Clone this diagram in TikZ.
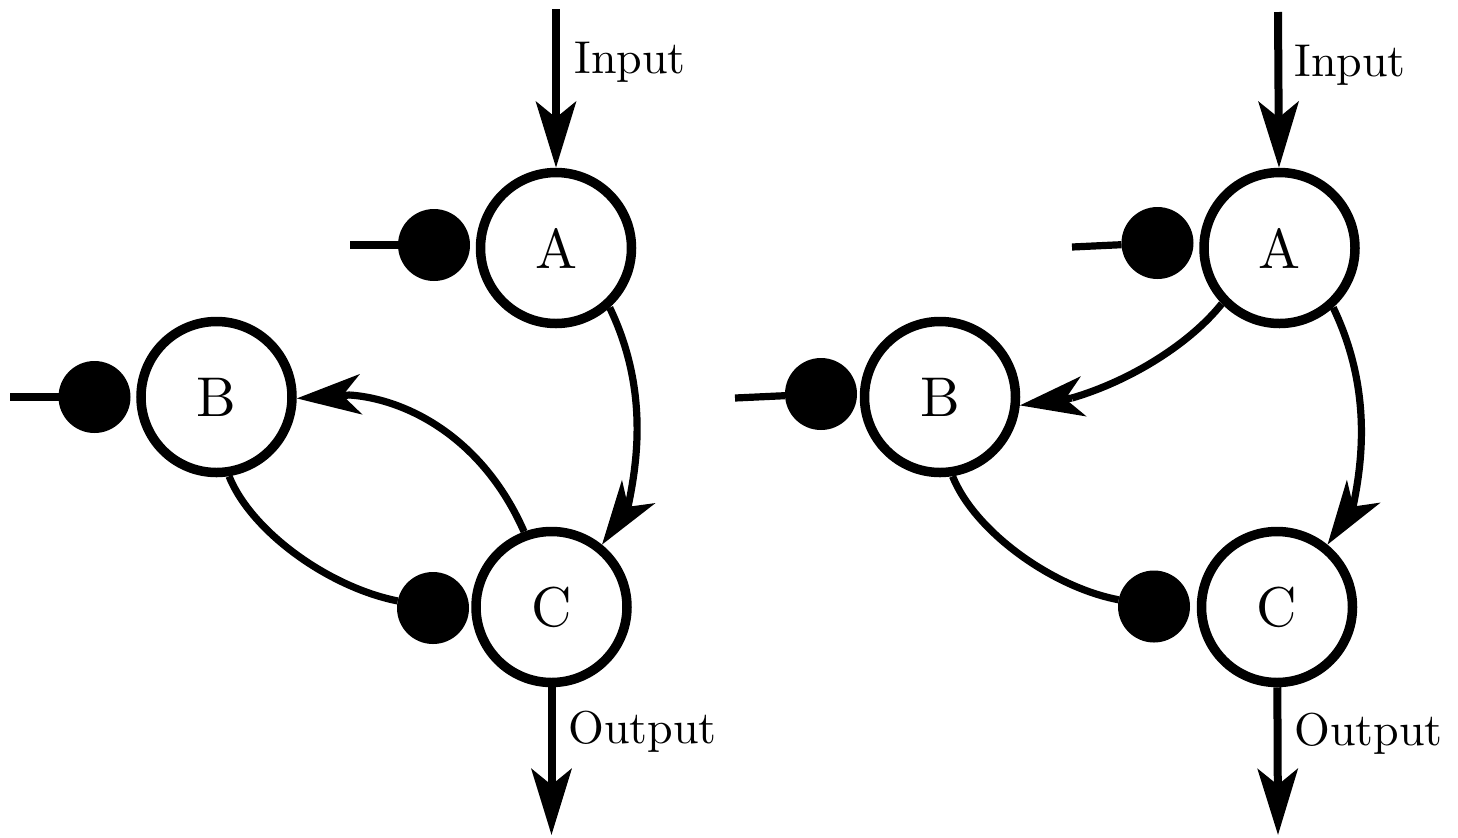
\documentclass[tikz,border=0pt]{standalone}
\usepackage{fontspec}
\setmainfont{lmroman10-regular}[Extension=.otf]
\usetikzlibrary{arrows.meta}
\tikzset{
  nd/.style={circle, draw, fill=white, line width=4.75pt, minimum size=75.5pt, inner sep=0pt, font=\fontsize{28}{32}\selectfont},
  blob/.style={circle, fill=black, minimum size=36pt, inner sep=0pt, outer sep=0pt},
  wire/.style={line width=3.6pt},
  flow/.style={line width=4pt, -{Stealth[length=33pt,width=20pt,inset=8pt]}},
  carc/.style={line width=3.6pt, -{Stealth[length=32pt,width=20pt,inset=9pt]}},
  lbl/.style={anchor=base west, inner sep=0pt, font=\fontsize{23}{28}\selectfont}
}
\begin{document}
\begin{tikzpicture}[x=0.5pt,y=-0.5pt]
\useasboundingbox (0,0) rectangle (1458,837);
% ---------- left diagram ----------
\node[nd] (A1) at (556,248) {A};
\node[nd] (B1) at (216.5,397) {B};
\node[nd] (C1) at (551.5,607) {C};
\node[blob] (dA1) at (434,245) {};
\node[blob] (dB1) at (94.5,397) {};
\node[blob] (dC1) at (433,608) {};
\coordinate (in1) at (556,9);
\coordinate (out1) at (551.5,835);
\coordinate (lA1) at (350,245);
\coordinate (lB1) at (10,397);
\coordinate (kAC1) at (628,507);
\coordinate (kCB1) at (350,395);
\draw[flow] (in1) -- (A1);
\draw[flow] (C1) -- (out1);
\node[lbl] (tin1) at (574,73) {Input};
\node[lbl] (tout1) at (568,743) {Output};
\draw[wire] (lA1) -- (dA1);
\draw[wire] (lB1) -- (dB1);
\draw[wire] (A1.-48.5) .. controls (650.3,392.1) and (636,467.8) .. (kAC1);
\draw[carc] (kAC1) -- (C1.51);
\draw[wire] (C1.110) .. controls (482,436) and (405,399) .. (kCB1);
\draw[carc] (kCB1) -- (B1.-1.6);
\draw[wire] (B1.-81) .. controls (251,531) and (328,587) .. (dC1);
% ---------- right diagram ----------
\node[nd] (A2) at (1279.5,248) {A};
\node[nd] (B2) at (940,397) {B};
\node[nd] (C2) at (1277,607) {C};
\node[blob] (dA2) at (1157.5,243) {};
\node[blob] (dB2) at (821,394) {};
\node[blob] (dC2) at (1154,606.5) {};
\coordinate (in2) at (1278,12);
\coordinate (out2) at (1278,835);
\coordinate (lA2) at (1072,247);
\coordinate (lB2) at (735,398);
\coordinate (kAB2) at (1072,398);
\coordinate (kAC2) at (1353,507);
\draw[flow] (in2) -- (A2);
\draw[flow] (C2) -- (out2);
\node[lbl] (tin2) at (1294,76) {Input};
\node[lbl] (tout2) at (1294,745) {Output};
\draw[wire] (lA2) -- (dA2);
\draw[wire] (lB2) -- (dB2);
\draw[wire] (A2.-136) .. controls (1190.4,343.2) and (1130.8,380.8) .. (kAB2);
\draw[carc] (kAB2) -- (B2.-6);
\draw[wire] (A2.-48.5) .. controls (1373.8,392.1) and (1361,467.8) .. (kAC2);
\draw[carc] (kAC2) -- (C2.51);
\draw[wire] (B2.-81) .. controls (974.5,531) and (1051.5,587) .. (dC2);
\end{tikzpicture}
\end{document}
